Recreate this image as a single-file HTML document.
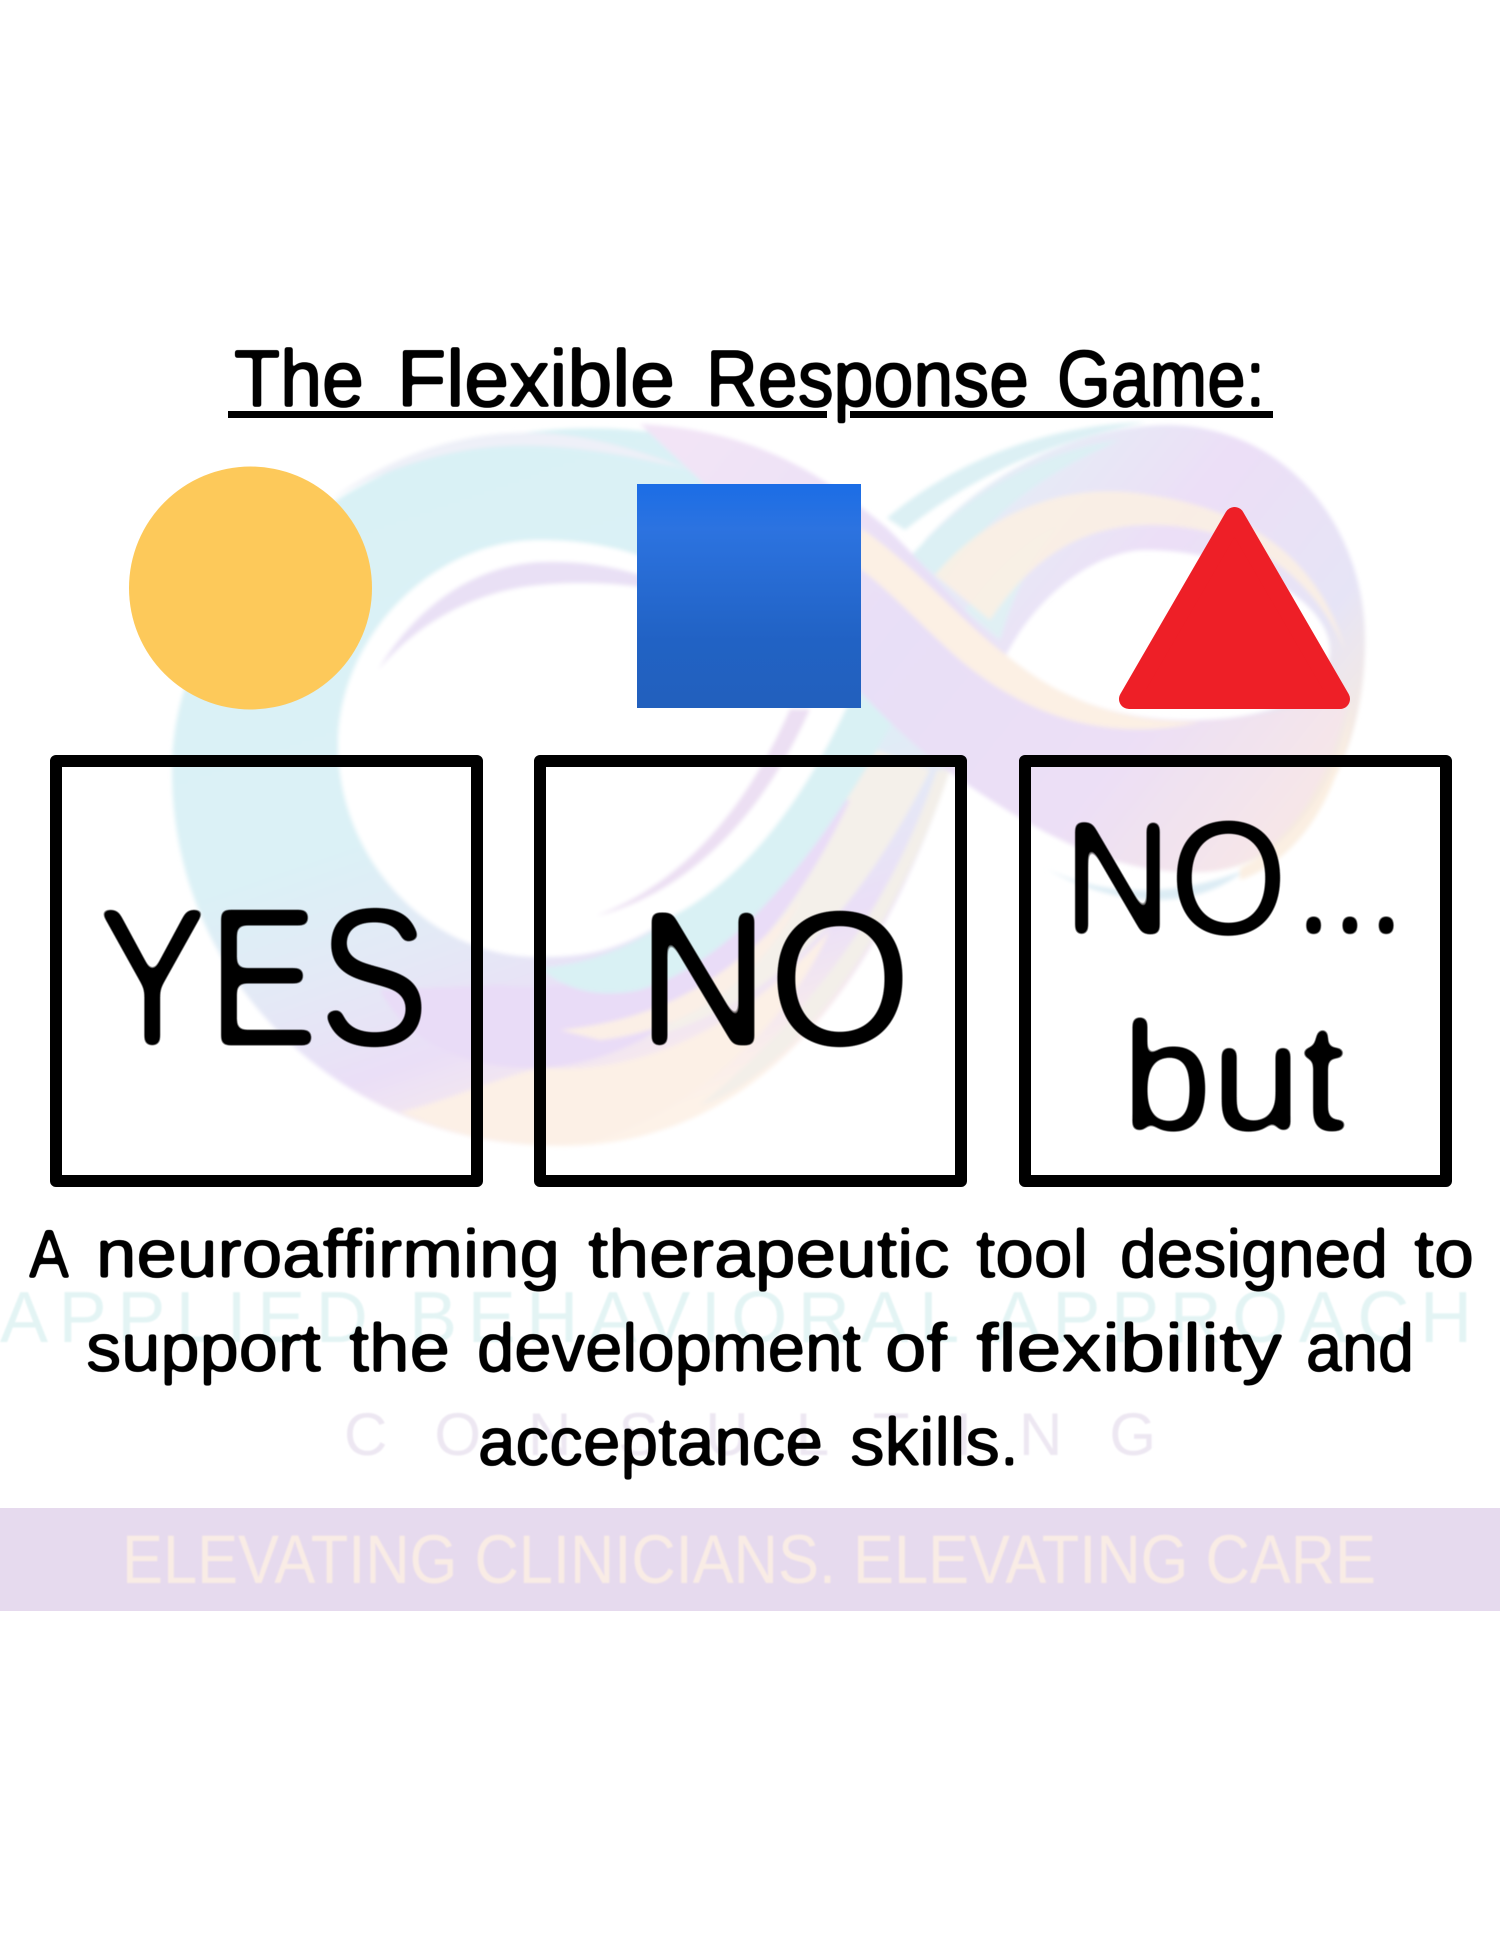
<!DOCTYPE html>
<html lang="en"><head><meta charset="utf-8"><title>The Flexible Response Game</title>
<style>html,body{margin:0;padding:0;background:#fff}svg{display:block}text{font-family:"Liberation Sans",sans-serif}</style></head>
<body>
<svg width="1500" height="1941" viewBox="0 0 1500 1941" xmlns="http://www.w3.org/2000/svg">
<defs>
<linearGradient id="l" gradientUnits="userSpaceOnUse" x1="330" y1="480" x2="560" y2="1146"><stop offset="0" stop-color="#d9f1f5"/><stop offset=".5" stop-color="#dbf1f6"/><stop offset=".68" stop-color="#e4e8f6"/><stop offset=".82" stop-color="#eadff7"/><stop offset=".93" stop-color="#f6e9ee"/><stop offset="1" stop-color="#fdf2e8"/></linearGradient>
<linearGradient id="r" gradientUnits="userSpaceOnUse" x1="950" y1="480" x2="1340" y2="800"><stop offset="0" stop-color="#e3eff6"/><stop offset=".4" stop-color="#ecdff7"/><stop offset=".75" stop-color="#e6e4f6"/><stop offset="1" stop-color="#f9ebdc"/></linearGradient>
<linearGradient id="d" gradientUnits="userSpaceOnUse" x1="700" y1="430" x2="1250" y2="870"><stop offset="0" stop-color="#f2e4f6"/><stop offset=".4" stop-color="#e8dff7"/><stop offset=".75" stop-color="#ecdff6"/><stop offset="1" stop-color="#f6e6e8"/></linearGradient>
<linearGradient id="b" x1="0" y1="0" x2="0" y2="1"><stop offset="0" stop-color="#1b6de6"/><stop offset=".2" stop-color="#2c73e0"/><stop offset=".7" stop-color="#2162c4"/><stop offset="1" stop-color="#2260bd"/></linearGradient>
<filter id="s" x="-10%" y="-10%" width="120%" height="120%"><feGaussianBlur stdDeviation="2"/></filter>
<filter id="t" x="-5%" y="-5%" width="110%" height="110%"><feGaussianBlur stdDeviation=".8"/></filter>
<filter id="big" filterUnits="userSpaceOnUse" x="0" y="780" width="1500" height="400"><feGaussianBlur stdDeviation="4.500"/><feComponentTransfer><feFuncA type="linear" slope="7" intercept="-3.400"/></feComponentTransfer></filter>
<filter id="sm" filterUnits="userSpaceOnUse" x="0" y="320" width="1500" height="1180"><feGaussianBlur stdDeviation="1.300"/><feComponentTransfer><feFuncA type="linear" slope="4" intercept="-1.400"/></feComponentTransfer></filter>
</defs>
<rect width="1500" height="1941" fill="#fff"/>
<g filter="url(#s)">
<!-- left loop body -->
<path fill="url(#l)" d="M700 440C420 380 172 560 172 770C172 980 340 1146 560 1146C760 1146 880 980 950 770L840 640L700 440Z"/>
<!-- peach tail -->
<path fill="#f3efe9" d="M937 770C900 880 830 1000 700 1105C760 1090 880 980 950 770Z"/>
<path fill="#f4f0ea" d="M850 740C810 860 740 960 640 1040C760 1010 850 930 930 770Z"/>
<path fill="#fcf0e6" d="M540 1068C640 1075 740 1030 830 930C790 1020 700 1110 590 1142C500 1150 440 1130 400 1112C450 1100 490 1080 540 1068Z"/>
<!-- purple over bottom-centre -->
<path fill="#e9dcf7" d="M500 985C620 1000 730 930 820 800L850 800C790 930 680 1060 540 1068C450 1070 400 1030 380 990Z"/>
<path fill="#fbefe6" d="M560 1030C650 1020 720 990 800 900C760 980 690 1030 600 1040Z"/>
<!-- cyan band lower right -->
<path fill="#d9f1f4" d="M540 968C660 960 760 860 830 700L905 700C830 840 740 960 640 990C590 1000 560 985 540 968Z"/>
<!-- left hole -->
<path fill="#fff" d="M338 744C338 640 430 540 540 540C610 540 670 560 720 600L850 690L828 714C800 790 730 880 659 925C610 955 575 957 538 957C430 957 338 860 338 744Z"/>
<!-- streaks in hole -->
<path fill="#e9e0f5" d="M378 670C420 600 480 565 540 562C590 560 640 570 690 595C640 585 590 580 540 585C480 590 420 620 378 670Z"/>
<path fill="#ecdff3" d="M596 916C690 880 750 800 790 709L810 709C770 800 700 890 596 916Z"/>
<path fill="#fff" d="M640 930C730 890 790 800 830 700L850 700C800 810 730 900 640 930Z"/>
<path fill="#eef0f8" d="M330 500C400 450 470 430 540 433C590 435 640 450 690 470C640 458 590 448 540 446C470 443 400 460 330 500Z"/>
<!-- right ring -->
<path fill="url(#r)" fill-rule="evenodd" d="M925 540C990 470 1080 425 1170 425C1290 428 1365 530 1365 640C1365 780 1290 870 1200 872C1110 875 1030 830 937 763L880 620ZM1006 655C1060 705 1120 722 1200 720C1280 718 1330 690 1330 650C1330 600 1240 550 1146 550C1100 550 1040 590 1006 655Z"/>
<!-- cyan strips -->
<path fill="#dcf0f4" d="M887 518C950 465 1040 425 1146 422C1060 440 980 470 905 530Z"/>
<path fill="#dcf0f4" d="M910 557C960 500 1040 450 1120 440C1050 470 990 510 945 580Z"/>
<path fill="#e0f0f4" d="M965 610C1000 560 1040 530 1060 525C1030 560 1015 590 1000 640Z"/>
<path fill="#fcf0e2" d="M935 575C990 510 1070 480 1150 495C1250 510 1320 560 1345 650C1310 570 1240 525 1150 525C1080 525 1030 560 990 620Z" opacity=".85"/>
<!-- diagonal -->
<path fill="url(#d)" d="M640 424C760 430 830 480 887 528C930 570 970 620 1006 655C1060 700 1120 722 1200 720C1260 718 1310 705 1350 690C1330 790 1280 870 1200 872C1110 875 1030 830 937 763C870 710 830 660 800 610L700 480Z"/>
<path fill="#fcf0e4" d="M861 528C920 570 960 620 1006 655C1060 700 1120 722 1200 722C1100 745 1020 710 960 660C920 625 890 590 855 565Z"/>
<path fill="#dcecf4" d="M1045 868C1110 900 1180 895 1245 870C1190 915 1110 905 1045 868Z"/>
<path fill="#fbefe2" d="M1240 868C1300 840 1340 780 1352 700C1345 790 1300 860 1240 880Z"/>
</g>
<!-- logo text -->
<g filter="url(#t)">
<text x="0" y="1342" font-size="72" fill="#e3f4f4" textLength="1472" lengthAdjust="spacing">APPLIED BEHAVIORAL APPROACH</text>
<text x="344" y="1455" font-size="60" fill="#ede7f2" textLength="812" lengthAdjust="spacing">C O N S U L T I N G</text>
</g>
<rect y="1508" width="1500" height="103" fill="#e6daee"/>
<text x="122" y="1583" font-size="69" fill="#f9ece5" filter="url(#t)" textLength="1254" lengthAdjust="spacingAndGlyphs">ELEVATING CLINICIANS. ELEVATING CARE</text>
<!-- title -->
<g fill="#000" stroke="#000" stroke-width="1.500" font-size="80" filter="url(#sm)">
<text x="234" y="406" textLength="130" lengthAdjust="spacingAndGlyphs">The</text>
<text x="397" y="406" textLength="278" lengthAdjust="spacingAndGlyphs">Flexible</text>
<text x="706" y="406" textLength="323" lengthAdjust="spacingAndGlyphs">Response</text>
<text x="1057" y="406" textLength="208" lengthAdjust="spacingAndGlyphs">Game:</text>
</g>
<rect x="228" y="411" width="599" height="7" fill="#000"/><rect x="850" y="411" width="423" height="7" fill="#000"/>
<!-- shapes -->
<circle cx="250.500" cy="588" r="121.500" fill="#fdc95a"/>
<rect x="637" y="484" width="224" height="224" fill="url(#b)"/>
<polygon points="1234.500,517 1129,699 1340,699" fill="#ee1f27" stroke="#ee1f27" stroke-width="20" stroke-linejoin="round"/>
<!-- boxes -->
<g fill="none" stroke="#000" stroke-width="12" stroke-linejoin="round">
<rect x="56" y="761" width="421" height="420"/>
<rect x="540" y="761" width="421" height="420"/>
<rect x="1025" y="761" width="421" height="420"/>
</g>
<!-- box text -->
<g fill="#000" filter="url(#big)">
<text x="97" y="1045" font-size="196" stroke="#000" stroke-width="2" textLength="332" lengthAdjust="spacingAndGlyphs">YES</text>
<text x="637" y="1045" font-size="192" stroke="#000" stroke-width="2" textLength="274" lengthAdjust="spacingAndGlyphs">NO</text>
<text transform="translate(1063,934) scale(.93,1)" x="0 115 247 286 325" y="0" font-size="162" stroke="#000" stroke-width="2">NO...</text>
<text x="1122" y="1130" font-size="155" stroke="#000" stroke-width="2" textLength="224" lengthAdjust="spacingAndGlyphs">but</text>
</g>
<!-- body -->
<g fill="#000" stroke="#000" stroke-width="1" font-size="68" filter="url(#sm)">
<text x="29" y="1277" textLength="40" lengthAdjust="spacingAndGlyphs">A</text>
<text x="96" y="1277" textLength="464" lengthAdjust="spacingAndGlyphs">neuroaffirming</text>
<text x="588" y="1277" textLength="362" lengthAdjust="spacingAndGlyphs">therapeutic</text>
<text x="976" y="1277" textLength="112" lengthAdjust="spacingAndGlyphs">tool</text>
<text x="1120" y="1277" textLength="268" lengthAdjust="spacingAndGlyphs">designed</text>
<text x="1414" y="1277" textLength="60" lengthAdjust="spacingAndGlyphs">to</text>
<text x="86" y="1371" textLength="235" lengthAdjust="spacingAndGlyphs">support</text>
<text x="349" y="1371" textLength="101" lengthAdjust="spacingAndGlyphs">the</text>
<text x="477" y="1371" textLength="384" lengthAdjust="spacingAndGlyphs">development</text>
<text x="885" y="1371" textLength="62" lengthAdjust="spacingAndGlyphs">of</text>
<text x="976" y="1371" textLength="306" lengthAdjust="spacingAndGlyphs">flexibility</text>
<text x="1306" y="1371" textLength="108" lengthAdjust="spacingAndGlyphs">and</text>
<text x="478" y="1465" textLength="345" lengthAdjust="spacingAndGlyphs">acceptance</text>
<text x="850" y="1465" textLength="169" lengthAdjust="spacingAndGlyphs">skills.</text>
</g>
</svg>
</body></html>
